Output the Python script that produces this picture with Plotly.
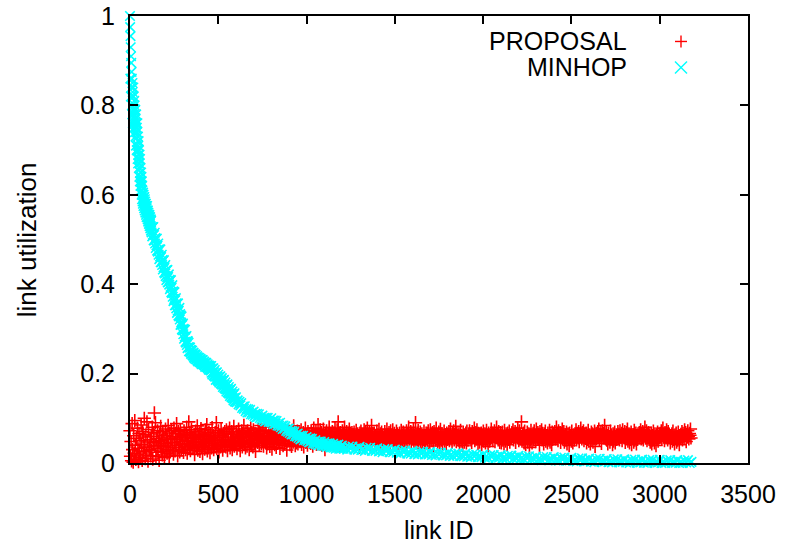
import numpy as np
import plotly.graph_objects as go

# ---------------- data ----------------
# PROPOSAL: link utilization in thousandths, one value every 3 link IDs starting at 0
PROPOSAL_STEP = 3
proposal_milli = [
    72, 15, 48, 5, 88, 30, 2, 61, 22, 95, 40, 8, 55, 18, 78, 33, 3, 66, 27, 50,
    12, 85, 42, 6, 70, 25, 58, 100, 35, 10, 63, 20, 92, 47, 4, 75, 38, 30, 52, 16,
    60, 28, 80, 9, 45, 68, 112, 38, 90, 14, 55, 33, 72, 24, 48, 6, 65, 40, 82, 26,
    50, 18, 70, 36, 58, 12, 44, 76, 30, 62, 22, 53, 84, 38, 15, 67, 46, 28, 73, 55,
    34, 60, 20, 78, 45, 27, 66, 40, 88, 52, 16, 70, 35, 58, 25, 74, 48, 30, 63, 42,
    56, 24, 72, 38, 65, 30, 50, 80, 22, 61, 44, 92, 36, 68, 28, 54, 75, 40, 58, 33,
    46, 64, 19, 57, 71, 35, 49, 83, 29, 60, 41, 67, 26, 53, 77, 37, 62, 21, 56, 45,
    63, 31, 74, 43, 52, 86, 27, 59, 39, 69, 48, 23, 65, 54, 34, 79, 44, 61, 30, 51,
    39, 68, 47, 90, 32, 57, 42, 72, 25, 62, 50, 36, 76, 45, 58, 29, 66, 53, 40, 70,
    52, 36, 74, 48, 28, 66, 52, 40, 78, 34, 58, 45, 70, 30, 64, 50, 82, 38, 56, 44,
    48, 70, 32, 60, 54, 76, 40, 64, 28, 58, 46, 72, 36, 66, 50, 84, 42, 60, 34, 68,
    56, 38, 72, 50, 64, 30, 60, 46, 78, 42, 68, 52, 36, 74, 58, 44, 66, 26, 62, 50,
    64, 46, 76, 54, 40, 70, 58, 84, 44, 62, 50, 72, 38, 60, 54, 80, 46, 66, 34, 58,
    43, 61, 55, 73, 37, 67, 49, 59, 31, 71, 53, 47, 63, 41, 77, 57, 35, 65, 51, 69,
    59, 45, 71, 33, 63, 53, 79, 47, 57, 39, 67, 61, 43, 75, 51, 65, 29, 59, 49, 73,
    51, 69, 41, 61, 55, 37, 73, 57, 47, 83, 53, 63, 39, 67, 45, 59, 71, 43, 57, 62,
    66, 48, 58, 74, 42, 62, 54, 68, 36, 60, 52, 78, 46, 64, 56, 40, 70, 50, 62, 47,
    60, 44, 72, 52, 66, 38, 58, 78, 48, 62, 54, 70, 42, 64, 56, 86, 46, 60, 50, 74,
    52, 68, 40, 62, 56, 76, 46, 60, 30, 66, 54, 72, 44, 58, 64, 50, 80, 48, 62, 56,
    64, 48, 70, 58, 42, 66, 54, 78, 50, 60, 46, 74, 56, 92, 52, 62, 40, 68, 58, 50,
    58, 72, 46, 64, 54, 80, 48, 62, 56, 70, 38, 60, 66, 52, 76, 44, 58, 64, 50, 68,
    47, 63, 55, 69, 41, 59, 51, 73, 45, 57, 65, 49, 61, 35, 67, 53, 71, 43, 59, 55,
    62, 50, 74, 56, 44, 68, 60, 52, 78, 46, 64, 58, 70, 42, 62, 56, 84, 50, 66, 54,
    53, 67, 45, 61, 57, 39, 71, 49, 63, 55, 75, 43, 59, 65, 47, 69, 51, 61, 41, 57,
    56, 70, 48, 62, 58, 76, 44, 64, 52, 68, 60, 40, 72, 56, 62, 50, 74, 58, 46, 66,
    49, 61, 57, 71, 43, 65, 53, 59, 37, 67, 55, 47, 73, 51, 63, 45, 69, 57, 52, 64,
    60, 52, 72, 46, 64, 58, 80, 50, 62, 56, 70, 44, 66, 60, 54, 76, 48, 62, 58, 90,
    45, 59, 67, 51, 73, 41, 63, 55, 69, 47, 57, 65, 33, 61, 53, 71, 49, 59, 43, 67,
    54, 66, 48, 72, 58, 62, 44, 74, 56, 64, 50, 68, 60, 38, 70, 56, 62, 52, 78, 60,
    63, 47, 57, 69, 53, 45, 75, 59, 51, 65, 41, 61, 55, 71, 49, 63, 57, 43, 67, 53,
    64, 56, 70, 50, 62, 76, 54, 60, 46, 68, 58, 72, 52, 64, 60, 82, 48, 66, 56, 62,
    51, 65, 43, 59, 73, 49, 61, 55, 39, 69, 57, 47, 63, 53, 67, 45, 71, 59, 51, 61,
    58, 72, 52, 64, 60, 46, 70, 56, 66, 62, 78, 50, 60, 68, 54, 74, 58, 44, 66, 60,
    47, 61, 57, 67, 41, 63, 53, 71, 49, 59, 65, 45, 55, 73, 51, 61, 37, 67, 57, 49,
    62, 54, 76, 58, 66, 50, 64, 60, 72, 48, 62, 58, 80, 56, 64, 52, 70, 60, 46, 68,
    55, 45, 63, 69, 51, 59, 43, 73, 57, 49, 65, 61, 41, 67, 53, 59, 71, 47, 63, 55,
    56, 68, 60, 74, 52, 64, 58, 70, 46, 62, 66, 56, 78, 60, 50, 72, 58, 64, 54, 92,
    49, 63, 53, 67, 45, 71, 57, 41, 61, 55, 69, 47, 59, 65, 35, 63, 51, 73, 57, 45,
    60, 66, 52, 72, 58, 62, 48, 76, 60, 56, 68, 54, 64, 40, 70, 58, 62, 74, 52, 66,
    53, 43, 65, 57, 71, 49, 61, 55, 45, 67, 59, 51, 73, 47, 63, 57, 41, 69, 53, 61,
    64, 58, 70, 54, 62, 80, 56, 66, 50, 72, 60, 58, 68, 46, 64, 62, 76, 54, 60, 70,
    47, 59, 63, 51, 69, 43, 57, 65, 53, 39, 67, 55, 61, 49, 71, 57, 45, 63, 59, 51,
    58, 62, 74, 52, 66, 60, 56, 70, 48, 64, 62, 78, 58, 54, 68, 60, 72, 50, 64, 58,
    55, 67, 45, 61, 53, 73, 49, 59, 63, 43, 57, 69, 51, 65, 47, 61, 55, 71, 37, 59,
    66, 54, 62, 70, 58, 76, 52, 64, 60, 68, 44, 62, 72, 58, 66, 56, 84, 60, 54, 68,
    51, 61, 43, 67, 55, 59, 47, 71, 53, 63, 57, 41, 65, 49, 61, 69, 45, 57, 63, 53,
    60, 70, 56, 64, 52, 72, 62, 58, 66, 50, 74, 60, 64, 56, 70, 46, 62, 68, 58, 76,
    49, 57, 65, 45, 61, 53, 69, 41, 59, 55, 63, 47, 73, 51, 57, 67, 43, 61, 53, 65,
    62, 56, 68, 60, 74, 54, 64, 58, 70, 52, 66, 62, 80, 56, 60, 72, 50, 64, 58, 68,
    53, 63, 47, 59, 67, 43, 61, 51, 71, 55, 45, 65, 57, 39, 63, 53, 69, 49, 59, 61,
    56, 66, 60, 72, 54, 62, 78, 58, 64, 50, 68, 60, 56, 74, 62, 52, 70, 58, 64, 60,
    45, 59, 55, 65, 49, 71, 53, 61, 43, 63, 57, 67, 47, 59, 51, 69, 55, 41, 61, 57,
    64, 58, 70, 52, 66, 60, 56, 74, 62, 68, 48, 64, 58, 72, 60, 54, 66, 62, 76, 56,
]

# MINHOP: link utilization, given in four segments (start ID, ID step, values)
minhop_a_start, minhop_a_step = 0, 1
minhop_a = [
    1.0, 0.975, 0.86, 0.955, 0.93, 0.82, 0.91, 0.895, 0.84, 0.875,
    0.86, 0.80, 0.84, 0.78, 0.85, 0.83, 0.76, 0.82, 0.79, 0.84,
    0.76, 0.82, 0.78, 0.75, 0.81, 0.77, 0.80, 0.74, 0.79, 0.76,
    0.79, 0.73, 0.77, 0.75, 0.71, 0.78, 0.74, 0.76, 0.70, 0.75,
    0.74, 0.70, 0.76, 0.68, 0.72, 0.73, 0.67, 0.71, 0.69, 0.72,
    0.66, 0.70, 0.68, 0.64, 0.69, 0.67, 0.63, 0.68, 0.65, 0.62,
    0.66, 0.63, 0.61, 0.65, 0.62, 0.64, 0.60, 0.63, 0.59, 0.62,
    0.61, 0.585, 0.60, 0.58, 0.605, 0.59, 0.575, 0.60, 0.585, 0.595,
    0.57, 0.595, 0.58, 0.565, 0.59, 0.575, 0.585, 0.56, 0.58, 0.57,
    0.58, 0.555, 0.575, 0.565, 0.55, 0.57, 0.56, 0.575, 0.55, 0.565,
    0.545, 0.565, 0.55, 0.54, 0.56, 0.545, 0.555, 0.535, 0.55, 0.54,
    0.555, 0.53, 0.545, 0.535, 0.55, 0.525, 0.54, 0.53, 0.545, 0.52,
]
minhop_b_start, minhop_b_step = 120, 2
minhop_b = [
    0.542, 0.516, 0.528, 0.507, 0.527, 0.511, 0.528, 0.498, 0.51, 0.498,
    0.515, 0.491, 0.503, 0.481, 0.501, 0.487, 0.502, 0.475, 0.486, 0.473,
    0.491, 0.466, 0.478, 0.456, 0.477, 0.462, 0.478, 0.449, 0.461, 0.449,
    0.466, 0.443, 0.454, 0.433, 0.452, 0.438, 0.454, 0.426, 0.438, 0.424,
    0.443, 0.418, 0.431, 0.409, 0.431, 0.416, 0.432, 0.404, 0.416, 0.405,
    0.422, 0.399, 0.41, 0.389, 0.408, 0.394, 0.409, 0.382, 0.393, 0.38,
    0.398, 0.372, 0.384, 0.362, 0.383, 0.367, 0.382, 0.353, 0.364, 0.353,
    0.369, 0.346, 0.357, 0.336, 0.356, 0.341, 0.357, 0.33, 0.341, 0.328,
    0.347, 0.321, 0.333, 0.309, 0.33, 0.314, 0.328, 0.299, 0.309, 0.297,
    0.312, 0.288, 0.30, 0.278, 0.298, 0.283, 0.298, 0.271, 0.282, 0.269,
    0.284, 0.264, 0.273, 0.257, 0.272, 0.259, 0.269, 0.25, 0.259, 0.25,
    0.258, 0.248, 0.253, 0.244, 0.252, 0.245, 0.251, 0.241, 0.245, 0.24,
    0.247, 0.237, 0.242, 0.234, 0.243, 0.236, 0.242, 0.232, 0.236, 0.232,
    0.239, 0.229, 0.235, 0.227, 0.236, 0.229, 0.235, 0.226, 0.23, 0.225,
    0.233, 0.224, 0.229, 0.221, 0.23, 0.223, 0.23, 0.221, 0.224, 0.22,
    0.227, 0.218, 0.223, 0.215, 0.224, 0.217, 0.224, 0.215, 0.218, 0.214,
    0.221, 0.212, 0.217, 0.209, 0.218, 0.211, 0.217, 0.208, 0.212, 0.207,
    0.217, 0.202, 0.21, 0.198, 0.211, 0.203, 0.212, 0.196, 0.203, 0.195,
    0.208, 0.193, 0.20, 0.186, 0.202, 0.193, 0.203, 0.187, 0.193, 0.185,
    0.198, 0.183, 0.191, 0.18, 0.193, 0.184, 0.194, 0.178, 0.185, 0.177,
    0.19, 0.175, 0.182, 0.17, 0.185, 0.175, 0.186, 0.168, 0.175, 0.167,
    0.18, 0.165, 0.172, 0.16, 0.174, 0.165, 0.176, 0.158, 0.165, 0.157,
    0.17, 0.155, 0.162, 0.15, 0.164, 0.155, 0.166, 0.148, 0.155, 0.147,
    0.16, 0.145, 0.152, 0.14, 0.154, 0.145, 0.156, 0.138, 0.145, 0.137,
]
minhop_c_start, minhop_c_step = 600, 5
minhop_c = [
    0.147, 0.136, 0.14, 0.131, 0.137, 0.129, 0.134, 0.123, 0.126, 0.121,
    0.127, 0.116, 0.121, 0.113, 0.12, 0.113, 0.119, 0.109, 0.113, 0.108,
    0.115, 0.105, 0.11, 0.102, 0.11, 0.103, 0.109, 0.10, 0.103, 0.098,
    0.106, 0.096, 0.101, 0.093, 0.101, 0.095, 0.101, 0.092, 0.096, 0.092,
    0.10, 0.09, 0.095, 0.087, 0.095, 0.088, 0.094, 0.084, 0.088, 0.083,
    0.09, 0.08, 0.084, 0.076, 0.084, 0.077, 0.082, 0.072, 0.076, 0.07,
    0.077, 0.067, 0.072, 0.064, 0.071, 0.064, 0.07, 0.06, 0.064, 0.059,
    0.066, 0.056, 0.061, 0.053, 0.061, 0.055, 0.061, 0.051, 0.055, 0.051,
    0.058, 0.049, 0.054, 0.046, 0.055, 0.048, 0.054, 0.044, 0.048, 0.044,
    0.051, 0.042, 0.047, 0.04, 0.048, 0.042, 0.048, 0.039, 0.043, 0.039,
    0.047, 0.038, 0.043, 0.036, 0.044, 0.038, 0.044, 0.035, 0.039, 0.035,
    0.043, 0.034, 0.039, 0.032, 0.04, 0.034, 0.041, 0.032, 0.036, 0.032,
]
minhop_d_start, minhop_d_step = 1200, 10
minhop_d = [
    0.039, 0.032, 0.035, 0.030, 0.037, 0.032, 0.037, 0.030, 0.033, 0.030,
    0.036, 0.029, 0.032, 0.027, 0.034, 0.030, 0.034, 0.027, 0.030, 0.027,
    0.033, 0.026, 0.029, 0.024, 0.031, 0.027, 0.031, 0.024, 0.027, 0.024,
    0.030, 0.023, 0.026, 0.021, 0.028, 0.024, 0.028, 0.021, 0.024, 0.021,
    0.027, 0.020, 0.023, 0.019, 0.025, 0.021, 0.025, 0.019, 0.021, 0.019,
    0.025, 0.018, 0.021, 0.017, 0.023, 0.019, 0.023, 0.017, 0.019, 0.017,
    0.023, 0.016, 0.019, 0.015, 0.021, 0.017, 0.021, 0.015, 0.017, 0.015,
    0.021, 0.014, 0.017, 0.013, 0.019, 0.015, 0.019, 0.013, 0.015, 0.013,
    0.019, 0.012, 0.015, 0.011, 0.017, 0.014, 0.018, 0.011, 0.014, 0.012,
    0.0175, 0.0105, 0.0135, 0.0095, 0.016, 0.0125, 0.0165, 0.0095, 0.0125, 0.0105,
    0.016, 0.009, 0.012, 0.008, 0.0145, 0.011, 0.015, 0.008, 0.011, 0.009,
    0.0145, 0.0075, 0.0105, 0.0065, 0.013, 0.0095, 0.0135, 0.0065, 0.0095, 0.0075,
    0.013, 0.006, 0.009, 0.005, 0.0115, 0.008, 0.012, 0.005, 0.008, 0.006,
    0.0115, 0.0045, 0.0075, 0.0035, 0.010, 0.0065, 0.0105, 0.0035, 0.0065, 0.0045,
    0.010, 0.003, 0.006, 0.002, 0.009, 0.005, 0.0095, 0.0025, 0.0055, 0.0035,
    0.009, 0.002, 0.005, 0.001, 0.008, 0.004, 0.0085, 0.0015, 0.0045, 0.0025,
    0.008, 0.001, 0.004, 0.0, 0.007, 0.003, 0.0075, 0.0005, 0.0035, 0.0015,
    0.0075, 0.0005, 0.0035, 0.0, 0.0065, 0.0025, 0.007, 0.0, 0.003, 0.001,
    0.007, 0.0, 0.003, 0.0, 0.006, 0.002, 0.0065, 0.0, 0.0025, 0.0005,
    0.0065, 0.0, 0.0025, 0.0, 0.0055, 0.0015, 0.0065, 0.0, 0.0025,
]

x_ticks = [0, 500, 1000, 1500, 2000, 2500, 3000, 3500]
y_ticks = [0, 0.2, 0.4, 0.6, 0.8, 1]
y_tick_text = ["0", "0.2", "0.4", "0.6", "0.8", "1"]
series_names = ["PROPOSAL", "MINHOP"]
x_title = "link ID"
y_title = "link utilization"

# ---------------- build series ----------------
prop_x = np.arange(len(proposal_milli)) * PROPOSAL_STEP
prop_y = np.array(proposal_milli) / 1000.0

mh_x, mh_y = [], []
for start, step, vals in [(minhop_a_start, minhop_a_step, minhop_a),
                          (minhop_b_start, minhop_b_step, minhop_b),
                          (minhop_c_start, minhop_c_step, minhop_c),
                          (minhop_d_start, minhop_d_step, minhop_d)]:
    mh_x.extend((start + step * np.arange(len(vals))).tolist())
    mh_y.extend(vals)

RED = "#ff0000"
CYAN = "#00ffff"
FONT = "Liberation Sans, Arial, Helvetica, sans-serif"
MSIZE = 9.5
MLW = 1.6

fig = go.Figure()
fig.add_trace(go.Scatter(
    x=prop_x, y=prop_y, mode="markers", name=series_names[0], cliponaxis=False,
    marker=dict(symbol="cross-thin", size=MSIZE, color=RED, line=dict(color=RED, width=MLW)),
))
fig.add_trace(go.Scatter(
    x=mh_x, y=mh_y, mode="markers", name=series_names[1], cliponaxis=False,
    marker=dict(symbol="x-thin", size=MSIZE, color=CYAN, line=dict(color=CYAN, width=MLW)),
))

W, H = 787, 546
L, R, T, B = 130, 748, 15.5, 463
pw, ph = R - L, B - T


def px(xp):
    return (xp - L) / pw


def py(yp):
    return (B - yp) / ph


axis_common = dict(
    showline=True, linecolor="black", linewidth=2, mirror="ticks",
    ticks="inside", ticklen=8, tickwidth=1.5, tickcolor="black",
    showgrid=False, zeroline=False, automargin=False,
    tickfont=dict(family=FONT, size=25, color="black"),
)

fig.update_layout(
    template=None,
    width=W, height=H,
    margin=dict(l=L, r=W - R, t=T, b=H - B, pad=0, autoexpand=False),
    paper_bgcolor="white", plot_bgcolor="white",
    showlegend=False,
    xaxis=dict(range=[0, 3500], tickvals=x_ticks, ticklabelstandoff=8, **axis_common),
    yaxis=dict(range=[0, 1], tickvals=y_ticks, ticktext=y_tick_text, ticklabelstandoff=8, **axis_common),
    font=dict(family=FONT, size=25, color="black"),
)

annotations = [
    dict(text=x_title, xref="paper", yref="paper", x=px(438), y=py(530),
         xanchor="center", yanchor="middle", showarrow=False, font=dict(size=25)),
    dict(text=y_title, xref="paper", yref="paper", x=px(27), y=py(240), textangle=-90,
         xanchor="center", yanchor="middle", showarrow=False, font=dict(size=26)),
    dict(text=series_names[0], xref="paper", yref="paper", x=px(629), y=py(41),
         xanchor="right", yanchor="middle", showarrow=False, font=dict(size=25)),
    dict(text=series_names[1], xref="paper", yref="paper", x=px(629), y=py(67),
         xanchor="right", yanchor="middle", showarrow=False, font=dict(size=25)),
]
fig.update_layout(annotations=annotations)

# legend sample symbols (gnuplot style: text on the left, symbol on the right)
cx, r = 681, 6
shapes = [
    dict(type="line", xref="paper", yref="paper", x0=px(cx - r), x1=px(cx + r), y0=py(41), y1=py(41),
         line=dict(color=RED, width=1.4)),
    dict(type="line", xref="paper", yref="paper", x0=px(cx), x1=px(cx), y0=py(41 - r), y1=py(41 + r),
         line=dict(color=RED, width=1.4)),
    dict(type="line", xref="paper", yref="paper", x0=px(cx - r), x1=px(cx + r), y0=py(67 - r), y1=py(67 + r),
         line=dict(color=CYAN, width=1.4)),
    dict(type="line", xref="paper", yref="paper", x0=px(cx - r), x1=px(cx + r), y0=py(67 + r), y1=py(67 - r),
         line=dict(color=CYAN, width=1.4)),
]
fig.update_layout(shapes=shapes)

fig.write_html("out.html")
